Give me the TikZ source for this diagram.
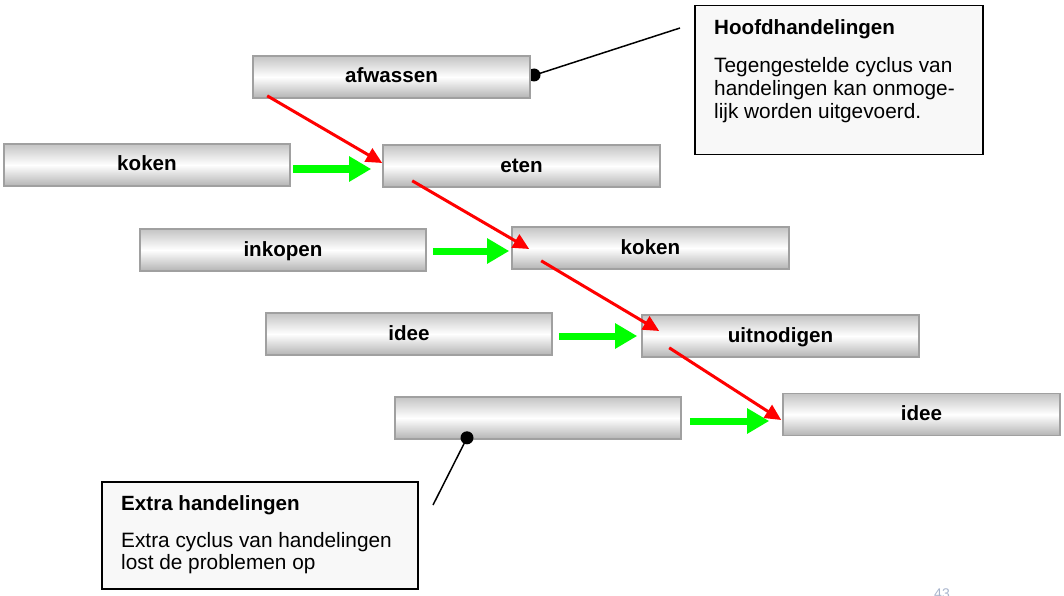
\documentclass[tikz,border=0pt]{standalone}
\usepackage{fontspec}
\setmainfont{Liberation Sans}
\usetikzlibrary{arrows.meta,calc}
\definecolor{boxedge}{HTML}{A0A0A0}
\definecolor{boxtop}{HTML}{C4C4C4}
\definecolor{boxbot}{HTML}{B4B4B4}
\definecolor{calloutfill}{HTML}{F8F8F8}
\definecolor{arrowred}{HTML}{FF0000}
\definecolor{arrowgreen}{HTML}{00FF00}
\definecolor{pagenum}{HTML}{A8B4CC}
\tikzset{
  gbox/.style={draw=boxedge, line width=1.6pt, top color=boxtop, bottom color=boxbot, middle color=white,
    minimum height=42pt, inner sep=0pt, text height=15pt, text depth=3pt,
    font=\fontsize{20.6}{24}\selectfont\bfseries},
  wbox/.style={gbox, minimum width=286pt},
  nbox/.style={gbox, minimum width=277pt},
  redarrow/.style={draw=arrowred, line width=3pt, -{Triangle[length=16pt,width=15pt]}},
  greenarrow/.style={draw=arrowgreen, line width=7pt, -{Triangle[length=22pt,width=24pt]}},
  callout/.style={draw=black, line width=1.5pt, fill=calloutfill, inner sep=0pt},
  ctext/.style={anchor=base west, inner sep=0pt, font=\fontsize{20.8}{24}\selectfont},
  ctitle/.style={ctext, font=\fontsize{20.6}{24}\selectfont\bfseries},
  pointer/.style={draw=black, line width=1.5pt},
  dot/.style={fill=black}
}
\begin{document}
\begin{tikzpicture}[x=1pt,y=-1pt]
\useasboundingbox (0,0) rectangle (1064,596);

% pointer dot behind afwassen box
\fill[dot] (534,75) circle (6.5pt);

% boxes
\node[nbox] (afwassen) at (391.5,77) {afwassen};
\node[wbox] (koken1) at (147,165) {koken};
\node[nbox] (eten) at (521.5,166) {eten};
\node[wbox] (inkopen) at (283,250) {inkopen};
\node[nbox] (koken2) at (650.5,248) {koken};
\node[wbox] (idee1) at (409,334) {idee};
\node[nbox] (uitnodigen) at (780.5,336) {uitnodigen};
\node[wbox] (leeg) at (538,418) {};
\node[nbox] (idee2) at (921.5,414.5) {idee};

% green arrows
\draw[greenarrow] ([xshift=2pt,yshift=-4pt]koken1.east) -- ([xshift=-11pt,yshift=-3pt]eten.west);
\draw[greenarrow] ([xshift=6pt,yshift=-1pt]inkopen.east) -- ([xshift=-2pt,yshift=-3pt]koken2.west);
\draw[greenarrow] ([xshift=6pt,yshift=-2pt]idee1.east) -- ([xshift=-4pt,yshift=0pt]uitnodigen.west);
\draw[greenarrow] ([xshift=8pt,yshift=-3pt]leeg.east) -- ([xshift=-13pt,yshift=-6.5pt]idee2.west);

% red arrows
\draw[redarrow] ([xshift=15pt,yshift=3pt]afwassen.south west) -- ([xshift=0pt,yshift=3pt]eten.west);
\draw[redarrow] ([xshift=30pt,yshift=7pt]eten.south west) -- ([xshift=18pt,yshift=-1pt]koken2.west);
\draw[redarrow] ([xshift=30pt,yshift=9pt]koken2.south west) -- ([xshift=18pt,yshift=5pt]uitnodigen.west);
\draw[redarrow] ([xshift=28pt,yshift=10pt]uitnodigen.south west) -- ([xshift=-1pt,yshift=-5.5pt]idee2.west);

% top callout
\node[callout, minimum width=288pt, minimum height=149pt, anchor=north west] (hoofd) at (694,5) {};
\coordinate (hoofdend) at (680,28);
\draw[pointer] ([xshift=4pt,yshift=2pt]afwassen.east) -- (hoofdend);
\node[ctitle] (hoofdtitle) at (714,35) {Hoofdhandelingen};
\node[ctext] (hoofdl1) at (714,73) {Tegengestelde cyclus van};
\node[ctext] (hoofdl2) at (714,96) {handelingen kan onmoge-};
\node[ctext] (hoofdl3) at (714,119) {lijk worden uitgevoerd.};

% bottom callout
\node[callout, minimum width=316pt, minimum height=107pt, anchor=north west] (extra) at (101,481) {};
\coordinate (extraend) at (433,505);
\coordinate (extradot) at ([xshift=-71pt,yshift=2pt]leeg.south);
\draw[pointer] (extradot) -- (extraend);
\fill[dot] (extradot) circle (6.5pt);
\node[ctitle] (extratitle) at (121,510) {Extra handelingen};
\node[ctext] (extral1) at (121,547) {Extra cyclus van handelingen};
\node[ctext] (extral2) at (121,569) {lost de problemen op};

% partial page number (cut off at the lower edge, as in the reference)
\node[anchor=north, inner sep=0pt, text=pagenum, font=\fontsize{14}{16}\selectfont] (pnum) at (942,589) {43};
\end{tikzpicture}
\end{document}
